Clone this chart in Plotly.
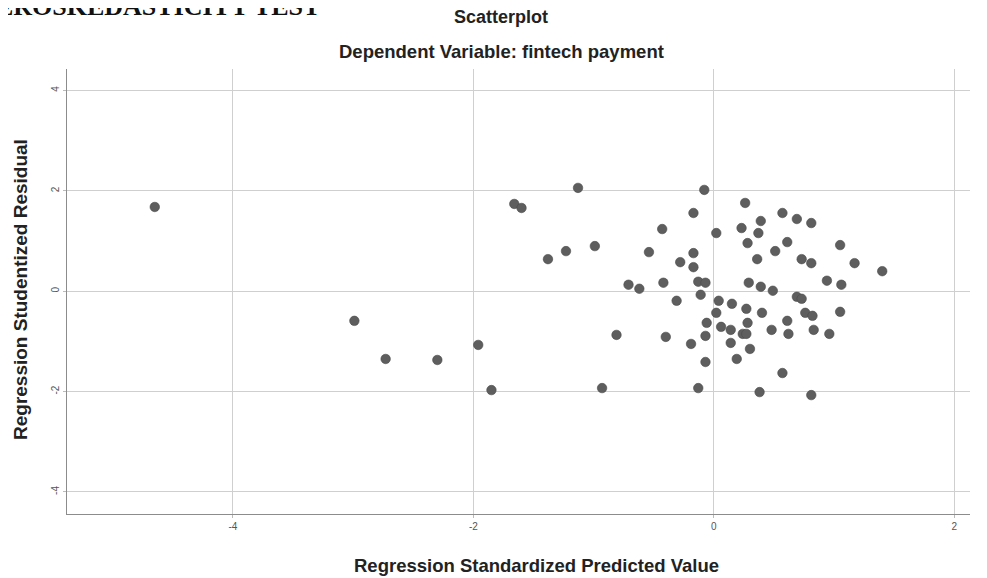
import plotly.graph_objects as go

# Regression Standardized Predicted Value (x) and Studentized Residual (y)
pred_x = [-4.65, -2.99, -2.73, -2.30, -1.96, -1.85, -1.66, -1.60, -1.38, -1.23,
          -1.13, -0.99, -0.93, -0.81, -0.71, -0.62, -0.54, -0.43, -0.42, -0.40,
          -0.31, -0.28, -0.19, -0.17, -0.17, -0.17, -0.13, -0.13, -0.11, -0.08,
          -0.07, -0.07, -0.07, -0.06, 0.02, 0.02, 0.04, 0.06, 0.14, 0.14,
          0.15, 0.19, 0.23, 0.24, 0.26, 0.27, 0.27, 0.28, 0.28, 0.29,
          0.30, 0.36, 0.37, 0.38, 0.39, 0.39, 0.40, 0.48, 0.49, 0.51,
          0.57, 0.57, 0.61, 0.61, 0.62, 0.69, 0.69, 0.73, 0.73, 0.76,
          0.81, 0.81, 0.81, 0.82, 0.83, 0.94, 0.96, 1.05, 1.05, 1.06,
          1.17, 1.40]
resid_y = [1.68, -0.59, -1.35, -1.37, -1.07, -1.97, 1.74, 1.66, 0.64, 0.80,
           2.06, 0.90, -1.93, -0.87, 0.13, 0.05, 0.78, 1.24, 0.17, -0.91,
           -0.19, 0.58, -1.05, 1.56, 0.76, 0.48, 0.19, -1.93, -0.07, 2.02,
           -0.89, -1.41, 0.17, -0.63, 1.16, -0.43, -0.19, -0.71, -0.77, -1.03,
           -0.25, -1.35, 1.26, -0.85, 1.76, -0.35, -0.85, 0.96, -0.63, 0.17,
           -1.15, 0.64, 1.16, -2.01, 1.40, 0.09, -0.43, -0.77, 0.01, 0.80,
           1.56, -1.63, 0.98, -0.59, -0.85, 1.44, -0.11, 0.64, -0.15, -0.43,
           -2.07, 1.36, 0.56, -0.49, -0.77, 0.21, -0.85, 0.92, -0.41, 0.13,
           0.56, 0.40]

x_ticks = [-4, -2, 0, 2]
y_ticks = [-4, -2, 0, 2, 4]

FONT = "Liberation Sans, Arial, sans-serif"

fig = go.Figure()
fig.add_trace(go.Scatter(
    x=pred_x, y=resid_y, mode="markers",
    marker=dict(size=9.5, color="#5e5e5e", line=dict(width=0.6, color="#4a4a4a")),
    hoverinfo="x+y", showlegend=False,
))

# page body has an 8px margin, so the figure is offset by OFF px
OFF = 8
W, H = 987 - OFF, 578 - OFF
# plot area in screen pixels: left 67, right 970, top 69, bottom 514
L = 67 - OFF
T = 69 - OFF
R = W - (970 - OFF)
B = H - (514 - OFF)
pw, ph = W - L - R, H - T - B

def px_x(px):
    return (px - OFF - L) / pw

def px_y(py):
    return (H - B - (py - OFF)) / ph

fig.update_layout(
    width=W, height=H,
    margin=dict(l=L, r=R, t=T, b=B, autoexpand=False),
    paper_bgcolor="white", plot_bgcolor="white",
    font=dict(family=FONT, color="#222"),
    xaxis=dict(
        range=[-5.38, 2.13], tickvals=x_ticks, ticktext=[str(v) for v in x_ticks],
        showgrid=True, gridcolor="#cfcfcf", gridwidth=1,
        zeroline=False, showline=True, linecolor="#8c8c8c", linewidth=1.3,
        ticks="outside", ticklen=3, tickcolor="#bbbbbb",
        tickfont=dict(size=10, color="#555", family=FONT),
    ),
    yaxis=dict(
        range=[-4.44, 4.43], tickvals=y_ticks, ticktext=[str(v) for v in y_ticks],
        showgrid=True, gridcolor="#cfcfcf", gridwidth=1,
        zeroline=False, showline=True, linecolor="#8c8c8c", linewidth=1.3,
        ticks="outside", ticklen=3, tickcolor="#bbbbbb", tickangle=-90,
        tickfont=dict(size=10, color="#555", family=FONT),
    ),
    annotations=[
        dict(text="<b>HETEROSKEDASTICITY TEST</b>", xref="paper", yref="paper",
             x=px_x(322), y=px_y(23), xanchor="right", yanchor="bottom",
             showarrow=False, font=dict(family="Liberation Serif, Times New Roman, serif", size=26, color="#111")),
        dict(text="<b>Scatterplot</b>", xref="paper", yref="paper",
             x=px_x(501), y=px_y(17), xanchor="center", yanchor="middle",
             showarrow=False, font=dict(size=18, color="#222", family=FONT)),
        dict(text="<b>Dependent Variable: fintech payment</b>", xref="paper", yref="paper",
             x=px_x(501), y=px_y(52), xanchor="center", yanchor="middle",
             showarrow=False, font=dict(size=18.5, color="#222", family=FONT)),
        dict(text="<b>Regression Studentized Residual</b>", xref="paper", yref="paper",
             x=px_x(20), y=px_y(290), xanchor="center", yanchor="middle", textangle=-90,
             showarrow=False, font=dict(size=19, color="#222", family=FONT)),
        dict(text="<b>Regression Standardized Predicted Value</b>", xref="paper", yref="paper",
             x=px_x(536), y=px_y(565), xanchor="center", yanchor="middle",
             showarrow=False, font=dict(size=18.5, color="#222", family=FONT)),
    ],
)

fig.write_html("out.html")
